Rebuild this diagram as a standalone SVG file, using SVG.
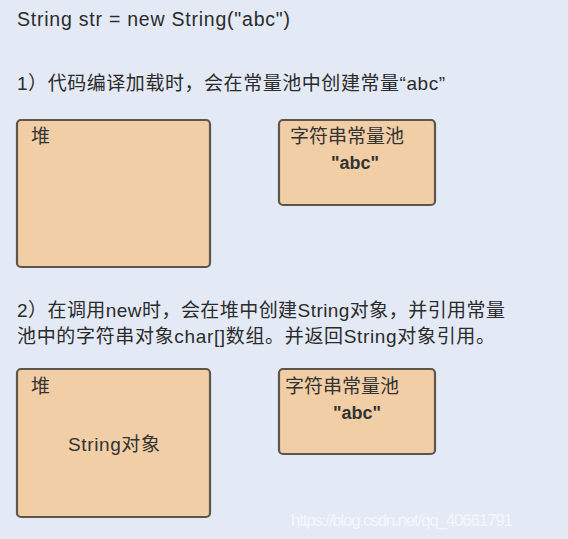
<svg xmlns="http://www.w3.org/2000/svg" width="568" height="539" viewBox="0 0 568 539">
<style>
.bg{fill:#e3eaf6}
.box{fill:#f2cea6;stroke:#5e554d;stroke-width:2.2}
.t{font-family:"Liberation Sans","Noto Sans CJK SC",sans-serif;fill:#2b2b2b;font-size:19px}
.lbl{font-family:"Liberation Sans","Noto Sans CJK SC",sans-serif;fill:#333;font-size:19px}
.abc{font-family:"Liberation Sans",Arial,sans-serif;fill:#333;font-size:18px;font-weight:bold}
.wm{font-family:"Liberation Sans",Arial,sans-serif;fill:#f4f6fa;font-size:17px}
</style>
<rect class="bg" x="0" y="0" width="568" height="539"/>
<text class="t" x="17" y="26" style="font-size:19.5px" textLength="273">String str = new String("abc")</text>
<text class="t" x="17" y="90" textLength="428">1）代码编译加载时，会在常量池中创建常量“abc”</text>
<g id="heap1">
<rect class="box" x="17" y="120" width="193" height="147" rx="4"/>
<text class="lbl" x="31" y="143">堆</text>
</g>
<g id="pool1">
<rect class="box" x="279" y="120" width="156" height="85" rx="4"/>
<text class="lbl" x="290" y="143" textLength="114">字符串常量池</text>
<text class="abc" x="331" y="169">"abc"</text>
</g>
<text class="t" x="17" y="317" textLength="488">2）在调用new时，会在堆中创建String对象，并引用常量</text>
<text class="t" x="17" y="343" textLength="478">池中的字符串对象char[]数组。并返回String对象引用。</text>
<g id="heap2">
<rect class="box" x="17" y="369" width="193" height="148" rx="4"/>
<text class="lbl" x="31" y="393">堆</text>
<text class="lbl" x="68" y="451" textLength="92">String对象</text>
</g>
<g id="pool2">
<rect class="box" x="279" y="369" width="156" height="85" rx="4"/>
<text class="lbl" x="285" y="393" textLength="114">字符串常量池</text>
<text class="abc" x="333" y="419">"abc"</text>
</g>
<g id="connectors"></g>
<text class="wm" x="291" y="526" textLength="222">https://blog.csdn.net/qq_40661791</text>
</svg>
